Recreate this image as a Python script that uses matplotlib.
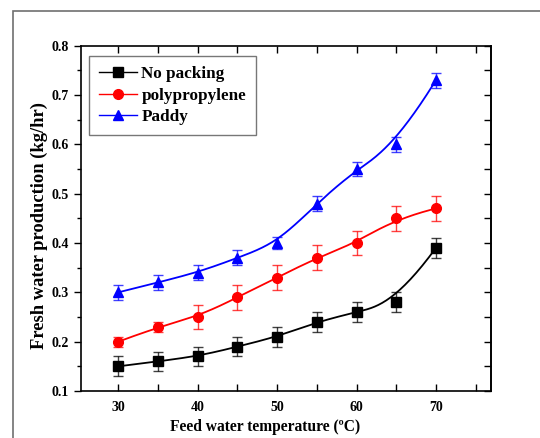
import numpy as np
import matplotlib
matplotlib.use("Agg")
import matplotlib.pyplot as plt
from matplotlib.patches import Rectangle

plt.rcParams['font.family'] = ['Liberation Serif', 'DejaVu Serif']
plt.rcParams['font.weight'] = 'bold'

# data
temps = [30, 35, 40, 45, 50, 55, 60, 65, 70]
no_packing = [0.15, 0.16, 0.17, 0.19, 0.21, 0.24, 0.26, 0.28, 0.39]
no_packing_err = [0.02, 0.02, 0.02, 0.02, 0.02, 0.02, 0.02, 0.02, 0.02]
polyprop = [0.20, 0.23, 0.25, 0.29, 0.33, 0.37, 0.40, 0.45, 0.47]
polyprop_err = [0.01, 0.01, 0.025, 0.025, 0.025, 0.025, 0.025, 0.025, 0.025]
paddy = [0.30, 0.32, 0.34, 0.37, 0.40, 0.48, 0.55, 0.60, 0.73]
paddy_err = [0.015, 0.015, 0.015, 0.015, 0.012, 0.015, 0.015, 0.015, 0.015]


# clamped cubic B-spline (like Origin's B-spline connect)
def bspline(xs, ys, num=300):
    P = np.column_stack((xs, ys)).astype(float)
    n = len(P)
    k = 3
    knots = np.concatenate(([0] * k, np.arange(n - k + 1), [n - k] * k)).astype(float)
    t = np.linspace(0, n - k, num)
    t[-1] -= 1e-9

    def basis(i, d, t):
        if d == 0:
            return ((knots[i] <= t) & (t < knots[i + 1])).astype(float)
        a = np.zeros_like(t)
        b = np.zeros_like(t)
        if knots[i + d] != knots[i]:
            a = (t - knots[i]) / (knots[i + d] - knots[i]) * basis(i, d - 1, t)
        if knots[i + d + 1] != knots[i + 1]:
            b = (knots[i + d + 1] - t) / (knots[i + d + 1] - knots[i + 1]) * basis(i + 1, d - 1, t)
        return a + b

    B = np.array([basis(i, k, t) for i in range(n)])
    C = B.T @ P
    return C[:, 0], C[:, 1]


fig = plt.figure(figsize=(5.4, 4.38), dpi=100)
fig.add_artist(Rectangle((13 / 540, -0.1), 1.2, 1 - 11 / 438 + 0.1, transform=fig.transFigure,
                         fill=False, edgecolor='#707070', linewidth=1.2))
ax = fig.add_axes([0.15, 0.1073, 0.7587, 0.7884])

series = [
    ("No packing", no_packing, no_packing_err, 'black', 's', 6.5),
    ("polypropylene", polyprop, polyprop_err, 'red', 'o', 7),
    ("Paddy", paddy, paddy_err, 'blue', '^', 7.5),
]
for label, vals, err, col, mk, ms in series:
    sx, sy = bspline(temps, vals)
    ax.plot(sx, sy, color=col, linewidth=1.3)
    ax.errorbar(temps, vals, yerr=err, fmt='none', ecolor=col, elinewidth=1, capsize=3.5, alpha=0.75)
    ax.plot(temps, vals, linestyle='none', marker=mk, color=col, markersize=ms)
    ax.plot([], [], color=col, marker=mk, markersize=ms, linewidth=1, label=label)

ax.set_xlim(25.3, 76.9)
ax.set_ylim(0.1, 0.8)
ax.set_xticks([30, 40, 50, 60, 70])
ax.set_xticks(np.arange(35, 76, 10), minor=True)
ax.set_yticks(np.arange(0.1, 0.81, 0.1))
ax.set_yticks(np.arange(0.15, 0.8, 0.1), minor=True)
ax.set_yticklabels(["0.1", "0.2", "0.3", "0.4", "0.5", "0.6", "0.7", "0.8"])

ax.tick_params(axis='x', which='both', direction='in', top=True, labelsize=10, width=1, length=5, pad=7)
ax.tick_params(axis='y', which='both', direction='out', labelsize=10, width=1)
ax.tick_params(axis='y', which='major', length=5)
ax.tick_params(axis='y', which='minor', length=3)
ax2 = ax.secondary_yaxis('right')
ax2.set_yticks(np.arange(0.1, 0.81, 0.1))
ax2.set_yticks(np.arange(0.15, 0.8, 0.1), minor=True)
ax2.tick_params(which='both', direction='in', length=5, width=1, labelright=False)
for sp in ax.spines.values():
    sp.set_linewidth(1.2)
ax2.spines['right'].set_linewidth(1.2)

ax.set_xlabel("Feed water temperature (ºC)", fontsize=11.2, fontweight='bold', labelpad=4)
ax.set_ylabel("Fresh water production (kg/hr)", fontsize=13.3, fontweight='bold', labelpad=2.5)
ax.xaxis.label.set_x(0.45)
ax.yaxis.label.set_y(0.478)

leg = ax.legend(loc='upper left', bbox_to_anchor=(0.02, 0.97), borderaxespad=0, fontsize=12.3,
                frameon=True, fancybox=False, edgecolor='#555555', handlelength=2.2, borderpad=0.6,
                labelspacing=0.32, handletextpad=0.25)
leg.get_frame().set_linewidth(1)

fig.savefig("out.png", dpi=100)
